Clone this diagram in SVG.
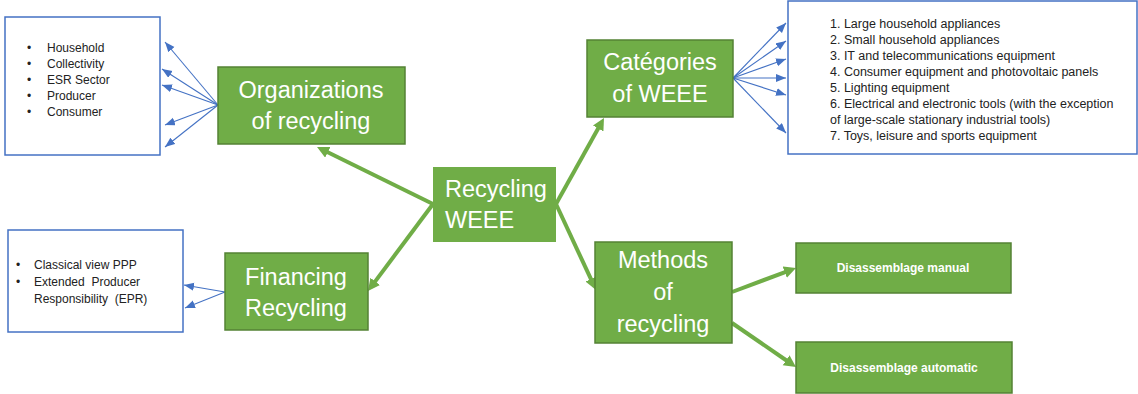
<svg xmlns="http://www.w3.org/2000/svg" width="1138" height="394" viewBox="0 0 1138 394">
<defs>
<style>
.gbox{fill:#70AD47;stroke:#548235;stroke-width:1.5}
.cbox{fill:#70AD47;stroke:none}
.lbox{fill:#fff;stroke:#4472C4;stroke-width:1.5}
.big{font-family:"Liberation Sans",Arial,sans-serif;font-size:23.5px;fill:#fff}
.small{font-family:"Liberation Sans",Arial,sans-serif;font-size:12px;font-weight:bold;fill:#fff;text-anchor:middle}
.list{font-family:"Liberation Sans",Arial,sans-serif;font-size:12px;fill:#222;white-space:pre}
.list2{font-family:"Liberation Sans",Arial,sans-serif;font-size:12.5px;fill:#222}
.ga{stroke:#70AD47;stroke-width:4;fill:none;marker-end:url(#gh)}
.ba{stroke:#4472C4;stroke-width:1.1;fill:none;marker-end:url(#bh)}
</style>
<marker id="gh" markerUnits="userSpaceOnUse" markerWidth="14" markerHeight="14" refX="4" refY="6" orient="auto"><path d="M0,0 L12,6 L0,12 z" fill="#70AD47"/></marker>
<marker id="bh" markerUnits="userSpaceOnUse" markerWidth="12" markerHeight="10" refX="10" refY="4" orient="auto"><path d="M0,0 L10,4 L0,8 z" fill="#4472C4"/></marker>
</defs>
<rect width="1138" height="394" fill="#fff"/>

<g id="connectors">
<line class="ga" x1="433" y1="204" x2="324.2" y2="150.5"/>
<line class="ga" x1="433" y1="204" x2="372.8" y2="284.6"/>
<line class="ga" x1="556" y1="204" x2="600.1" y2="125"/>
<line class="ga" x1="556" y1="204" x2="592.6" y2="282.7"/>
<line class="ga" x1="732" y1="292" x2="788.5" y2="270.8"/>
<line class="ga" x1="732" y1="323" x2="789.4" y2="362.5"/>
<line class="ba" x1="218" y1="105" x2="165" y2="42"/>
<line class="ba" x1="218" y1="105" x2="162" y2="69"/>
<line class="ba" x1="218" y1="105" x2="162" y2="85"/>
<line class="ba" x1="218" y1="105" x2="165" y2="125"/>
<line class="ba" x1="218" y1="105" x2="165" y2="147"/>
<line class="ba" x1="225" y1="292" x2="184" y2="285"/>
<line class="ba" x1="225" y1="292" x2="185" y2="308"/>
<line class="ba" x1="733" y1="78" x2="786" y2="23"/>
<line class="ba" x1="733" y1="78" x2="786" y2="41"/>
<line class="ba" x1="733" y1="78" x2="786" y2="59"/>
<line class="ba" x1="733" y1="78" x2="786" y2="78"/>
<line class="ba" x1="733" y1="78" x2="786" y2="95"/>
<line class="ba" x1="733" y1="78" x2="786" y2="133"/>
</g>

<g id="center">
<rect class="cbox" x="433" y="167" width="123" height="75"/>
<text class="big" x="445" y="197">Recycling</text>
<text class="big" x="445" y="228">WEEE</text>
</g>

<g id="organizations">
<rect class="gbox" x="218" y="67" width="187" height="77"/>
<text class="big" x="311" y="98" text-anchor="middle">Organizations</text>
<text class="big" x="311" y="129" text-anchor="middle">of recycling</text>
</g>

<g id="org-list">
<rect class="lbox" x="5" y="17" width="155" height="138"/>
<g class="list">
<text x="27" y="52">•</text><text x="47" y="52">Household</text>
<text x="27" y="68">•</text><text x="47" y="68">Collectivity</text>
<text x="27" y="84">•</text><text x="47" y="84">ESR Sector</text>
<text x="27" y="100">•</text><text x="47" y="100">Producer</text>
<text x="27" y="116">•</text><text x="47" y="116">Consumer</text>
</g>
</g>

<g id="financing">
<rect class="gbox" x="225" y="253" width="143" height="77"/>
<text class="big" x="296" y="285" text-anchor="middle">Financing</text>
<text class="big" x="296" y="316" text-anchor="middle">Recycling</text>
</g>

<g id="fin-list">
<rect class="lbox" x="8" y="230" width="175" height="102"/>
<g class="list">
<text x="16" y="269">•</text><text x="34" y="269">Classical view PPP</text>
<text x="16" y="286">•</text><text x="34" y="286" xml:space="preserve">Extended  Producer</text>
<text x="34" y="303" xml:space="preserve">Responsibility  (EPR)</text>
</g>
</g>

<g id="categories">
<rect class="gbox" x="587" y="40" width="146" height="77"/>
<text class="big" x="660" y="70" text-anchor="middle">Catégories</text>
<text class="big" x="660" y="102" text-anchor="middle">of WEEE</text>
</g>

<g id="cat-list">
<rect class="lbox" x="788" y="1" width="349" height="153"/>
<g class="list2">
<text x="830" y="28">1. Large household appliances</text>
<text x="830" y="44">2. Small household appliances</text>
<text x="830" y="60">3. IT and telecommunications equipment</text>
<text x="830" y="76">4. Consumer equipment and photovoltaic panels</text>
<text x="830" y="92">5. Lighting equipment</text>
<text x="830" y="108">6. Electrical and electronic tools (with the exception</text>
<text x="830" y="124">of large-scale stationary industrial tools)</text>
<text x="830" y="140">7. Toys, leisure and sports equipment</text>
</g>
</g>

<g id="methods">
<rect class="gbox" x="595" y="242" width="137" height="101"/>
<text class="big" x="663" y="268" text-anchor="middle">Methods</text>
<text class="big" x="663" y="300" text-anchor="middle">of</text>
<text class="big" x="663" y="332" text-anchor="middle">recycling</text>
</g>

<g id="manual">
<rect class="gbox" x="796" y="243" width="215" height="50"/>
<text class="small" x="903" y="272">Disassemblage manual</text>
</g>

<g id="automatic">
<rect class="gbox" x="796" y="342" width="216" height="51"/>
<text class="small" x="904" y="372">Disassemblage automatic</text>
</g>
</svg>
